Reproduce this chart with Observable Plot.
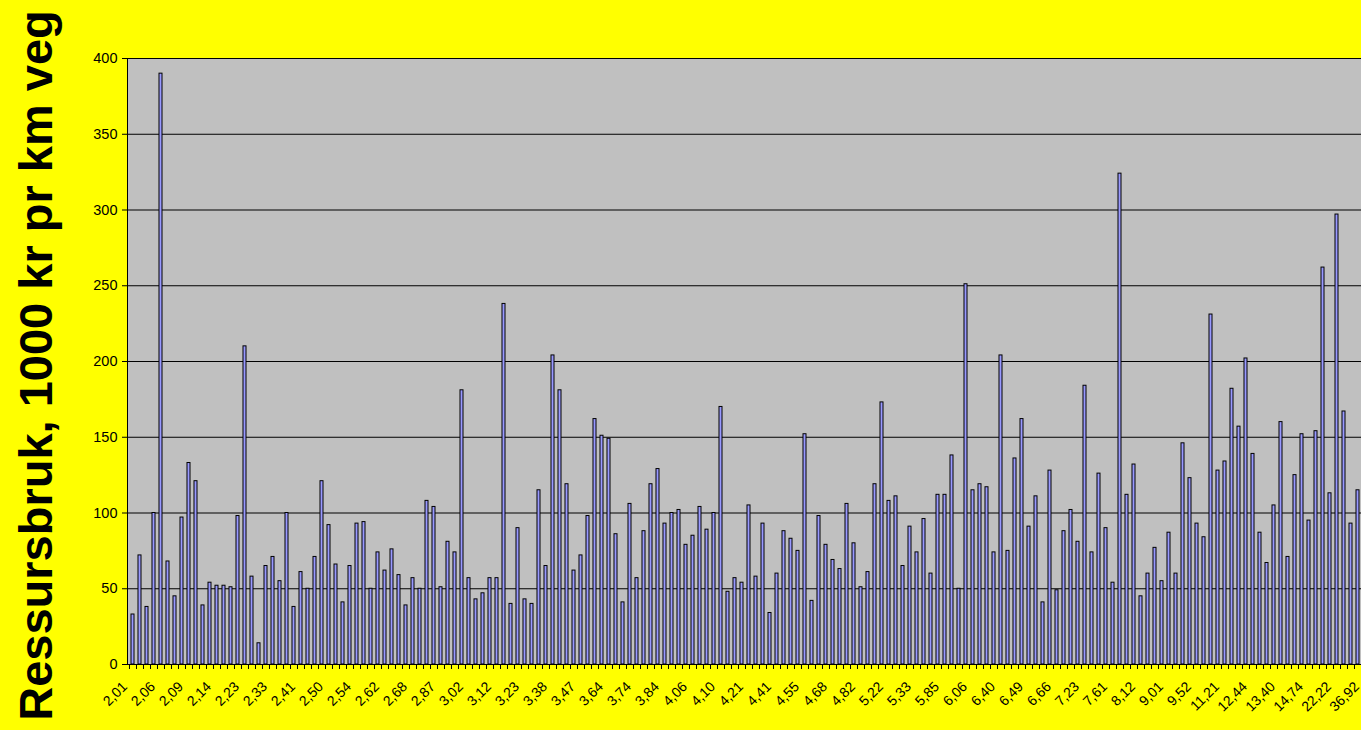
<!DOCTYPE html>
<html><head><meta charset="utf-8">
<script src="https://cdn.jsdelivr.net/npm/d3@7"></script>
<script src="https://cdn.jsdelivr.net/npm/@observablehq/plot@0.6"></script>
<style>
html,body{margin:0;padding:0;background:#ffff00;overflow:hidden;}
#chart svg{overflow:hidden;display:block;}
</style></head><body><div id="chart"></div>
<script>
const values = [
  33, 72, 38, 100, 390, 68, 45, 97, 133, 121,
  39, 54, 52, 52, 51, 98, 210, 58, 14, 65,
  71, 55, 100, 38, 61, 50, 71, 121, 92, 66,
  41, 65, 93, 94, 50, 74, 62, 76, 59, 39,
  57, 50, 108, 104, 51, 81, 74, 181, 57, 43,
  47, 57, 57, 238, 40, 90, 43, 40, 115, 65,
  204, 181, 119, 62, 72, 98, 162, 151, 149, 86,
  41, 106, 57, 88, 119, 129, 93, 100, 102, 79,
  85, 104, 89, 100, 170, 48, 57, 54, 105, 58,
  93, 34, 60, 88, 83, 75, 152, 42, 98, 79,
  69, 63, 106, 80, 51, 61, 119, 173, 108, 111,
  65, 91, 74, 96, 60, 112, 112, 138, 50, 251,
  115, 119, 117, 74, 204, 75, 136, 162, 91, 111,
  41, 128, 49, 88, 102, 81, 184, 74, 126, 90,
  54, 324, 112, 132, 45, 60, 77, 55, 87, 60,
  146, 123, 93, 84, 231, 128, 134, 182, 157, 202,
  139, 87, 67, 105, 160, 71, 125, 152, 95, 154,
  262, 113, 297, 167, 93, 115
];
const tickLabels = ["2,01","2,06","2,09","2,14","2,23","2,33","2,41","2,50","2,54","2,62",
  "2,68","2,87","3,02","3,12","3,23","3,38","3,47","3,64","3,74","3,84",
  "4,06","4,10","4,21","4,41","4,55","4,68","4,82","5,22","5,33","5,85",
  "6,06","6,40","6,49","6,66","7,23","7,61","8,12","9,01","9,52","11,21",
  "12,44","13,40","14,74","22,22","36,92"];
const yTicks = [0, 50, 100, 150, 200, 250, 300, 350, 400];
const title = "Ressursbruk, 1000 kr pr km veg";

const labelEvery = 4;
const nCat = (tickLabels.length - 1) * labelEvery + 1;
const step = 7.02;
const categories = d3.range(nCat);
const bars = values.map((v, i) => ({i, v}));
const labelData = tickLabels.map((t, k) => ({i: k * labelEvery, t}));

const chart = Plot.plot({
  width: 1361, height: 730,
  marginLeft: 127, marginRight: 0, marginTop: 58, marginBottom: 66,
  style: {background: "#ffff00", fontFamily: "'Liberation Sans', Arial, sans-serif", overflow: "hidden", color: "#000"},
  x: {type: "band", domain: categories, range: [127, 127 + nCat * step], paddingInner: 0.56, paddingOuter: 0.28, align: 0.5, axis: null},
  y: {domain: [0, 400], axis: null},
  marks: [
    Plot.frame({fill: "#c0c0c0", stroke: null}),
    Plot.ruleY(yTicks, {stroke: "#000", strokeWidth: 1}),
    Plot.barY(bars, {x: "i", y: "v", fill: "#9999ff", stroke: "#000", strokeWidth: 1}),
    Plot.frame({anchor: "left", stroke: "#000", strokeWidth: 1}),
    Plot.ruleX(categories, {x: d => d, y1: 0, y2: 0, insetBottom: -5, dx: -step / 2, stroke: "#000"}),
    Plot.axisY({ticks: yTicks, tickSize: 5, tickPadding: 5, fontSize: 14.5, stroke: "#000", fill: "#000", label: null}),
    Plot.text(labelData, {x: "i", text: "t", frameAnchor: "bottom", rotate: -45, textAnchor: "end", dx: -5, dy: 23, fontSize: 14, fill: "#000"}),
    Plot.text([title], {frameAnchor: "left", textAnchor: "middle", dx: -91, dy: 4, rotate: -90, fontSize: 47, fontWeight: "bold", fill: "#000"})
  ]
});
document.getElementById("chart").appendChild(chart);
</script></body></html>
